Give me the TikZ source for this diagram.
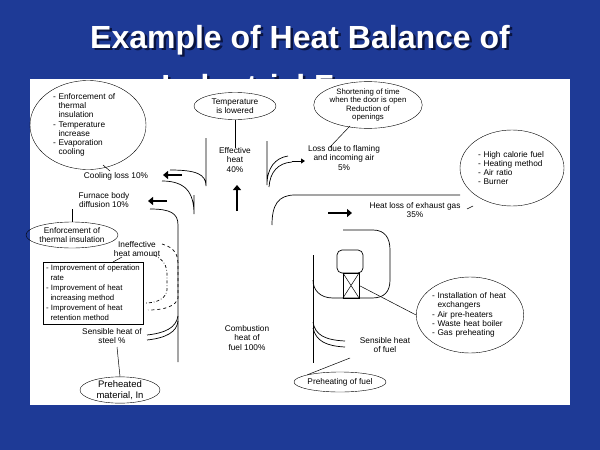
\documentclass[tikz,border=0pt]{standalone}
\usepackage{fontspec}
\setmainfont{Liberation Sans}
\usetikzlibrary{shapes.geometric, arrows.meta}
\definecolor{slideblue}{HTML}{1E3A96}
\definecolor{shadowblue}{HTML}{0A1440}
\tikzstyle{lbl} = [font=\fontsize{8.3}{9.2}\selectfont, align=center, inner sep=0pt]
\tikzstyle{note} = [ellipse, draw=black, font=\fontsize{8.3}{9.2}\selectfont, align=center, inner sep=0pt]
\tikzstyle{flow} = [line width=0.7pt]
\tikzstyle{fat} = [line width=2.6pt, -{Triangle[length=5pt,width=8pt]}]
\tikzstyle{lead} = [line width=0.5pt]
\tikzstyle{head} = [font=\fontsize{32}{34}\bfseries]
\begin{document}
\begin{tikzpicture}[x=1pt, y=-1pt]
		\useasboundingbox (0,0) rectangle (600,450);
		\fill [slideblue] (0,0) rectangle (600,450);
		\node (title1s) at (302.5,42.5) [head, text=shadowblue] {Example of Heat Balance of};
		\node (title1) at (300,40) [head, text=white] {Example of Heat Balance of};
		\begin{scope}
			\clip (0,0) rectangle (600,79);
			\node (title2s) at (302.5,88.5) [head, text=shadowblue] {Industrial Furnace};
			\node (title2) at (300,86) [head, text=white] {Industrial Furnace};
		\end{scope}
		\fill [white] (30,79) rectangle (570,405);
		% left side
		\node (encool) [note, minimum width=116pt, minimum height=84pt, text width=70pt, align=left] at (88,125) {- Enforcement of\\ \ \ thermal\\ \ \ insulation\\- Temperature\\ \ \ increase\\- Evaporation\\ \ \ cooling};
		\node (cool) [lbl] at (116,176) {Cooling loss 10\%};
		\draw [lead] (103,165) -- (110,171);
		\node (body) [lbl] at (104,200) {Furnace body\\diffusion 10\%};
		\node (eninsu) [note, minimum width=80pt, minimum height=26pt] at (72,235) {Enforcement of\\thermal insulation};
		\draw [lead] (72,209) -- (eninsu.north);
		\draw [fat] (182,175) -- (163,175);
		\draw [fat] (167,201) -- (148,201);
		\draw [flow] (206,138) -- (206,186) .. controls (206,174) and (196,170) .. (170,170);
		\draw [flow] (194,195) -- (194,214) .. controls (194,192) and (185,181) .. (162,181);
		\draw [flow] (178,362) -- (178,225) .. controls (178,213) and (170,209) .. (150,209);
		\node (ineff) [lbl] at (137,249) {Ineffective\\heat amount};
		\draw [flow, dashed] (162,244) .. controls (176,248) and (178,256) .. (178,265) -- (178,298) .. controls (176,306) and (165,310) .. (148,310);
		\draw [flow, dash dot] (154,255) .. controls (164,260) and (167,266) .. (167,275) -- (167,290) .. controls (166,298) and (158,303) .. (145,303);
		\node (improve) [draw, lbl, font=\fontsize{7.8}{10}\selectfont, minimum width=100pt, minimum height=62pt, inner sep=1.5pt, align=left] at (93,293) {- Improvement of operation\\ \ \ rate\\- Improvement of heat\\ \ \ increasing method\\- Improvement of heat\\ \ \ retention method};
		\draw [lead] (113,262) -- (122,257);
		\node (steel) [lbl] at (112,336) {Sensible heat of\\steel \%};
		\draw [flow] (147,335) .. controls (165,333) and (176,328) .. (178,316);
		\draw [flow] (147,340) .. controls (166,338) and (177,332) .. (178,321);
		\node (mater) [note, minimum width=80pt, minimum height=26pt, font=\fontsize{9.5}{10.5}\selectfont] at (120,390) {Preheated\\material, In};
		\draw [lead] (117,347) -- (mater.north);
		% middle
		\node (templow) [note, minimum width=82pt, minimum height=27pt] at (235,106) {Temperature\\is lowered};
		\node (effect) [lbl] at (235,160) {Effective\\heat\\40\%};
		\draw [lead] (templow.south) -- (235,148);
		\draw [fat] (237,211) -- (237,185);
		\node (comb) [lbl] at (247,338) {Combustion\\heat of\\fuel 100\%};
		% right side
		\node (door) [note, minimum width=98pt, minimum height=42pt, font=\fontsize{7.8}{8.6}\selectfont] at (368,105) {Shortening of time\\when the door is open\\Reduction of\\openings};
		\node (flame) [lbl] at (344,158) {Loss due to flaming\\and incoming air\\5\%};
		\draw [lead] (350,126) -- (330,147);
		\draw [flow] (267,141) -- (267,185) .. controls (267,168) and (275,158) .. (288,156);
		\draw [flow] (269,187) .. controls (270,172) and (278,163) .. (292,162);
		\draw [line width=0.8pt, -{Triangle[length=4pt,width=5pt]}] (292,161) -- (305,161);
		\draw [flow] (272,225) .. controls (272,205) and (278,195) .. (295,195) -- (460,195);
		\node (fuel) [note, minimum width=104pt, minimum height=76pt, text width=68pt, align=left] at (512,168) {- High calorie fuel\\- Heating method\\- Air ratio\\- Burner};
		\node (exhaust) [lbl] at (415,210) {Heat loss of exhaust gas\\35\%};
		\draw [lead] (467,209) -- (473,206);
		\draw [fat] (328,213) -- (352,213);
		\draw [flow] (343,230) -- (373,230) .. controls (385,230) and (390,238) .. (390,250) -- (390,280) .. controls (390,292) and (384,298) .. (372,298) -- (333,298) .. controls (320,298) and (313,290) .. (313,280);
		\draw [flow] (313,255) -- (313,363);
		\draw [flow, rounded corners=5pt] (337,250) rectangle (363,273);
		\node (exch) [draw, minimum width=16pt, minimum height=25pt, inner sep=0pt] at (351,285.5) {};
		\draw [lead] (exch.north west) -- (exch.south east) (exch.north east) -- (exch.south west);
		\node (heatx) [note, minimum width=102pt, minimum height=76pt, text width=76pt, align=left] at (470,315) {- Installation of heat\\ \ \ exchangers\\- Air pre-heaters\\- Waste heat boiler\\- Gas preheating};
		\draw [lead] (exch.east) -- (heatx.west);
		\draw [flow] (313,322) .. controls (315,335) and (325,340) .. (345,341);
		\draw [flow] (313,328) .. controls (316,341) and (326,346) .. (345,347);
		\node (fuelheat) [lbl] at (385,345) {Sensible heat\\of fuel};
		\node (prefuel) [note, minimum width=86pt, minimum height=20pt] at (340,382) {Preheating of fuel};
		\draw [lead] (350,358) -- (prefuel.north west);
\end{tikzpicture}
\end{document}
